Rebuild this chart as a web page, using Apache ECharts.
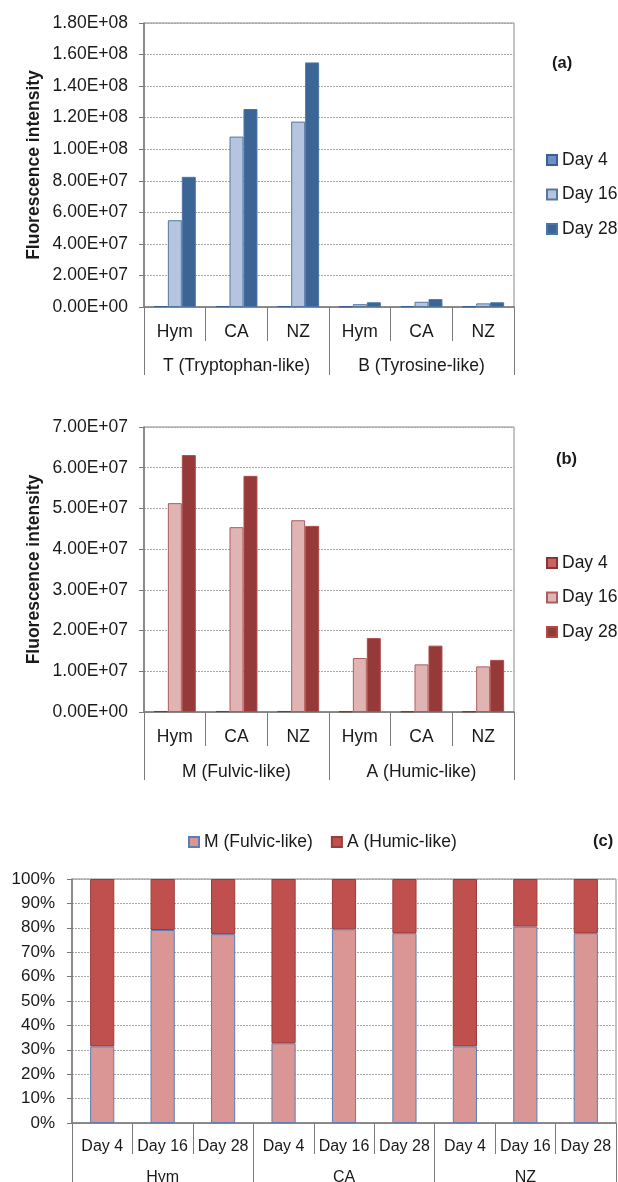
<!DOCTYPE html>
<html>
<head>
<meta charset="utf-8">
<script src="https://cdn.jsdelivr.net/npm/echarts@6/dist/echarts.min.js"></script>
<style>
  html, body { margin: 0; padding: 0; background: #fff; }
  #wrap { position: relative; width: 618px; height: 1182px; }
  .panel { position: absolute; left: 0; width: 618px; }
  #pa { top: 0; height: 395px; }
  #pb { top: 395px; height: 400px; }
  #pc { top: 795px; height: 387px; }
</style>
</head>
<body>
<div id="wrap">
  <div id="pa" class="panel"></div>
  <div id="pb" class="panel"></div>
  <div id="pc" class="panel"></div>
</div>
<script>
// ---- data ----
const dayNames = ['Day 4', 'Day 16', 'Day 28'];

// (a) protein-like peaks
const sitesA = ['Hym', 'CA', 'NZ', 'Hym', 'CA', 'NZ'];
const groupsA = ['T (Tryptophan-like)', 'B (Tyrosine-like)'];
const aDay4 = [6e5, 6e5, 6e5, 4e5, 5e5, 4e5];
const aDay16 = [5.5e7, 1.08e8, 1.175e8, 1.8e6, 3.3e6, 2.3e6];
const aDay28 = [8.25e7, 1.255e8, 1.55e8, 3.0e6, 5.0e6, 3.0e6];
const yTicksA = { min: 0, max: 1.8e8, step: 2e7 };

// (b) humic-like peaks
const sitesB = ['Hym', 'CA', 'NZ', 'Hym', 'CA', 'NZ'];
const groupsB = ['M (Fulvic-like)', 'A (Humic-like)'];
const bDay4 = [2.5e5, 2.5e5, 2.5e5, 1.5e5, 1.5e5, 1.5e5];
const bDay16 = [5.13e7, 4.54e7, 4.71e7, 1.325e7, 1.17e7, 1.12e7];
const bDay28 = [6.31e7, 5.80e7, 4.57e7, 1.815e7, 1.63e7, 1.28e7];
const yTicksB = { min: 0, max: 7e7, step: 1e7 };

// (c) relative share of M and A
const daysC = ['Day 4', 'Day 16', 'Day 28', 'Day 4', 'Day 16', 'Day 28', 'Day 4', 'Day 16', 'Day 28'];
const sitesC = ['Hym', 'CA', 'NZ'];
const seriesNamesC = ['M (Fulvic-like)', 'A (Humic-like)'];
const cFulvic = [31.4, 79.1, 77.4, 32.7, 79.4, 77.8, 31.4, 80.5, 77.8];
const cHumic = [68.6, 20.9, 22.6, 67.3, 20.6, 22.2, 68.6, 19.5, 22.2];
const yTicksC = { min: 0, max: 100, step: 10 };

// ---- shared styling ----
const FONT = 'Liberation Sans, Arial, sans-serif';
const TXT = '#1a1a1a';
const AXIS = '#7a7a7a';
const GRIDC = '#a6a6a6';
const FS = 17.5;   // text size in the two intensity panels

function sci(v) {
  const [m, e] = Number(v).toExponential(2).split('e');
  const sign = e[0] === '-' ? '-' : '+';
  const d = e.replace(/^[+-]/, '').padStart(2, '0');
  return m + 'E' + sign + d;
}

function plotGrid(left, top, width, height) {
  return {
    left: left, top: top, width: width, height: height,
    outerBoundsMode: 'none', containLabel: false,
    show: true, borderColor: '#8a8a8a', borderWidth: 1
  };
}

function valueAxis(t, fmt, nameText, nameGap, fs, margin) {
  return {
    type: 'value', min: t.min, max: t.max, interval: t.step,
    name: nameText || '', nameLocation: 'middle', nameGap: nameGap || 0,
    nameMoveOverlap: false,
    nameTextStyle: { fontFamily: FONT, fontSize: FS, fontWeight: 'bold', color: TXT },
    axisLine: { show: true, lineStyle: { color: AXIS, width: 1.5 } },
    axisTick: { show: true, length: 5, lineStyle: { color: AXIS } },
    axisLabel: { formatter: fmt, fontFamily: FONT, fontSize: fs, color: TXT, margin: margin },
    splitLine: { show: true, lineStyle: { color: GRIDC, type: [2, 1], width: 1 } }
  };
}

function catAxes(inner, outer, innerLen, outerLen, innerMargin, outerMargin, fsInner, fsOuter) {
  return [
    {
      type: 'category', data: inner, position: 'bottom', boundaryGap: true,
      axisLine: { show: true, lineStyle: { color: AXIS, width: 1.5 } },
      axisTick: { show: true, interval: 0, alignWithLabel: false, length: innerLen, lineStyle: { color: AXIS } },
      axisLabel: { interval: 0, fontFamily: FONT, fontSize: fsInner, color: TXT, margin: innerMargin },
      splitLine: { show: false }
    },
    {
      type: 'category', data: outer, position: 'bottom', boundaryGap: true,
      axisLine: { show: false },
      axisTick: { show: true, interval: 0, alignWithLabel: false, length: outerLen, lineStyle: { color: AXIS } },
      axisLabel: { interval: 0, fontFamily: FONT, fontSize: fsOuter, color: TXT, margin: outerMargin },
      splitLine: { show: false }
    }
  ];
}

function dayBars(name, data, fill, border) {
  return {
    name: name, type: 'bar', xAxisIndex: 0, yAxisIndex: 0, data: data,
    barGap: '0%', barCategoryGap: '32%',
    itemStyle: { color: fill, borderColor: border, borderWidth: 1 }
  };
}

function sideLegend(top) {
  return {
    orient: 'vertical', left: 546, top: top, itemGap: 16.5, padding: 0,
    itemWidth: 10, itemHeight: 10, icon: 'rect',
    textStyle: { fontFamily: FONT, fontSize: FS, color: TXT, lineHeight: 17.5 },
    data: dayNames
  };
}

function tag(text, x, y) {
  return {
    type: 'text', left: x, top: y,
    style: { text: text, font: 'bold 16.5px ' + FONT, fill: TXT }
  };
}

// ---- panel (a) ----
const chartA = echarts.init(document.getElementById('pa'), null, { renderer: 'canvas' });
chartA.setOption({
  animation: false,
  grid: plotGrid(144, 23, 370, 284),
  legend: sideLegend(151),
  graphic: [tag('(a)', 552, 55)],
  xAxis: catAxes(sitesA, groupsA, 34, 68, 16, 50, FS, FS),
  yAxis: valueAxis(yTicksA, sci, 'Fluorescence intensity', 101, FS, 16),
  series: [
    dayBars(dayNames[0], aDay4, '#6d8fc4', '#3c5f94'),
    dayBars(dayNames[1], aDay16, '#b6c5df', '#56789f'),
    dayBars(dayNames[2], aDay28, '#3b6595', '#4b75a6')
  ]
});

// ---- panel (b) ----
const chartB = echarts.init(document.getElementById('pb'), null, { renderer: 'canvas' });
chartB.setOption({
  animation: false,
  grid: plotGrid(144, 32, 370, 285),
  legend: sideLegend(159),
  graphic: [tag('(b)', 556, 56)],
  xAxis: catAxes(sitesB, groupsB, 34, 68, 16, 51, FS, FS),
  yAxis: valueAxis(yTicksB, sci, 'Fluorescence intensity', 101, FS, 16),
  series: [
    dayBars(dayNames[0], bDay4, '#c86462', '#8a3533'),
    dayBars(dayNames[1], bDay16, '#e1b4b4', '#b05c5c'),
    dayBars(dayNames[2], bDay28, '#953a38', '#ad4c4a')
  ]
});

// ---- panel (c) ----
const chartC = echarts.init(document.getElementById('pc'), null, { renderer: 'canvas' });
chartC.setOption({
  animation: false,
  grid: plotGrid(72, 84, 544, 244),
  legend: {
    orient: 'horizontal', left: 188, top: 38, itemGap: 18, padding: 0,
    itemWidth: 10, itemHeight: 10, icon: 'rect',
    textStyle: { fontFamily: FONT, fontSize: FS, color: TXT, lineHeight: 17.5 },
    data: seriesNamesC
  },
  graphic: [tag('(c)', 593, 38)],
  xAxis: catAxes(daysC, sitesC, 31, 62, 16, 47, 16, 16),
  yAxis: valueAxis(yTicksC, v => v + '%', '', 0, 17, 17),
  series: [
    {
      name: seriesNamesC[0], type: 'bar', stack: 'share', data: cFulvic,
      barCategoryGap: '60%',
      itemStyle: { color: '#d99694', borderColor: '#5b7fb5', borderWidth: 1 }
    },
    {
      name: seriesNamesC[1], type: 'bar', stack: 'share', data: cHumic,
      barCategoryGap: '60%',
      itemStyle: { color: '#c0504d', borderColor: '#9c3c3a', borderWidth: 1 }
    }
  ]
});
</script>
</body>
</html>
